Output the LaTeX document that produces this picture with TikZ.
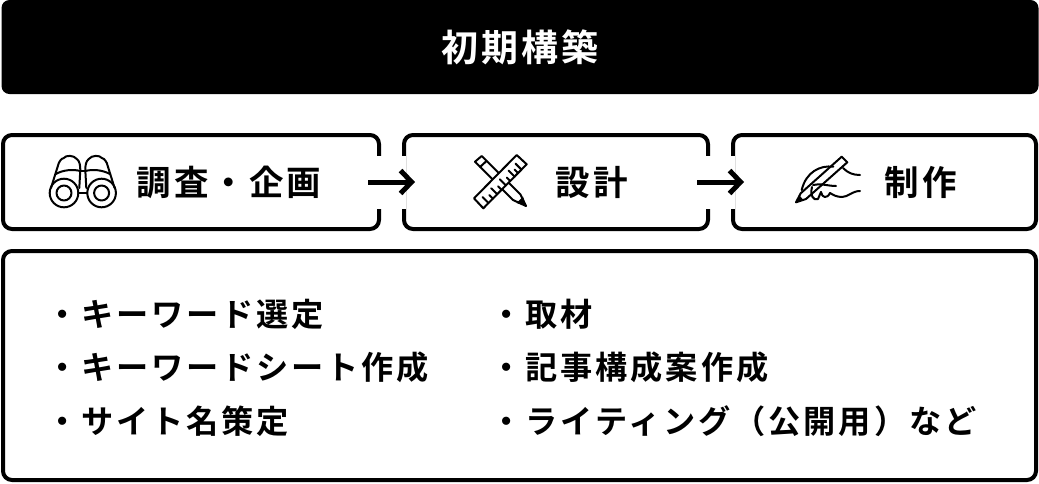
\documentclass[tikz,border=0pt]{standalone}
\usepackage{fontspec}
\newfontfamily\jpfont[LetterSpace=9]{Noto Sans CJK JP Bold}
\usetikzlibrary{%
  calc,
  positioning,
  arrows.meta,
}
\tikzset{
  titlebar/.style = {
    fill = black, text = white, rounded corners = 8pt,
    minimum width = 1037pt, minimum height = 94pt,
    font = \jpfont\fontsize{37}{37}\selectfont,
  },
  stepbox/.style = {
    draw = black, line width = 4pt, rounded corners = 9pt,
    minimum height = 94pt,
  },
  steptext/.style = {font = \jpfont\fontsize{34.5}{34.5}\selectfont},
  itemtext/.style = {font = \jpfont\fontsize{32.2}{32.2}\selectfont, anchor = west},
  iconline/.style = {line width = 2pt, line join = round, line cap = round},
  binohalf/.pic = {
    \draw [iconline] (-31.8,188) -- (-24,163) .. controls (-22,159) and (-20,158) .. (-19,158)
      .. controls (-17,155) and (-9,155) .. (-6,159)
      .. controls (-3,161) and (-2.5,166) .. (-2.5,170) -- (-3.5,188);
    \draw [iconline] (-27,174) .. controls (-20,170) and (-10,169) .. (-2.5,171);
    \draw [iconline] (-18.8,193) circle (14.3);
    \draw [iconline] (-18.8,193) circle (7.5);
  },
}
\begin{document}
\begin{tikzpicture}[x = 1pt, y = -1pt]
  \useasboundingbox (0,0) rectangle (1039,483);

  \node (title) [titlebar] at (520,47) {初期構築};

  \node (survey) [stepbox, minimum width = 376pt] at (191,182) {};
  \node (design) [stepbox, minimum width = 304pt] at (556,182) {};
  \node (make) [stepbox, minimum width = 303pt] at (884.5,182) {};
  \node (detail) [stepbox, minimum width = 1033pt, minimum height = 229pt] at (519.5,365.5) {};

  \node (surveytext) [steptext] at (229,182) {調査・企画};
  \node (designtext) [steptext] at (592,182) {設計};
  \node (maketext) [steptext] at (921,182) {制作};

  \node (itemA) [itemtext] at (42.5,314) {・キーワード選定};
  \node (itemB) [itemtext] at (42.5,367) {・キーワードシート作成};
  \node (itemC) [itemtext] at (42.5,421) {・サイト名策定};
  \node (itemD) [itemtext] at (487,314) {・取材};
  \node (itemE) [itemtext] at (487,367) {・記事構成案作成};
  \node (itemF) [itemtext] at (487,421) {・ライティング（公開用）など};

  \begin{scope}[white, line width = 53pt, shorten > = -4pt, shorten < = -4pt, yshift = 1pt]
    \draw (survey) -- (design);
    \draw (design) -- (make);
  \end{scope}
  \begin{scope}[line width = 5pt, yshift = 2pt, -{Straight Barb[length = 11pt, width = 23pt, line width = 5pt]}]
    \draw [shorten < = -13pt, shorten > = -13pt] (survey) -- (design);
    \draw [shorten < = -13pt, shorten > = -13pt] (design) -- (make);
  \end{scope}

  % binoculars
  \pic at (82.8,0) {binohalf};
  \pic at (82.8,0) [xscale = -1] {binohalf};
  \draw [iconline] (80.3,171) -- (85.3,171);
  \draw [iconline] (78.5,193) -- (87,193);

  % pencil and ruler
  \draw [iconline] (481.7,156) -- (475,161.7) -- (513,200) -- (526,206) -- (520.5,194.5) -- cycle;
  \draw [iconline] (486.5,161) -- (480,167);
  \fill (526,206) -- (516.5,203) -- (523,196.5) -- cycle;
  \coordinate (rulerA) at (516.7,155);
  \coordinate (rulerB) at (526.7,164.3);
  \coordinate (rulerC) at (483.3,208.3);
  \coordinate (rulerD) at (474,198.3);
  \draw [iconline, fill = white] (rulerA) -- (rulerB) -- (rulerC) -- (rulerD) -- cycle;
  \foreach \t in {0.12,0.32,0.52,0.72,0.88} {
    \draw [iconline] ($(rulerC)!\t!(rulerB)$) -- ++(-6,-6);
  }
  \foreach \t in {0.22,0.42,0.62,0.8} {
    \draw [iconline] ($(rulerC)!\t!(rulerB)$) -- ++(-3.5,-3.5);
  }

  % hand with pen
  \draw [iconline] (841.7,156.7) -- (800.7,193.3) -- (796,202.3) -- (806,199) -- (847.3,162.3) -- cycle;
  \fill (796,202.3) -- (799,195) -- (803.5,200) -- cycle;
  \draw [iconline] (833.3,166.7) .. controls (820,165) and (806,172) .. (801.7,190);
  \draw [iconline] (843,168) .. controls (848,173) and (853,175) .. (860,175);
  \draw [iconline] (860,191) .. controls (852,191) and (848,197) .. (842,197)
    .. controls (837,197) and (833,195) .. (830,193);
  \draw [iconline] (813,185) .. controls (820,183) and (828,186) .. (836,186);
  \draw [iconline] (812,187) .. controls (810,195) and (813,201) .. (818,199) -- (821,192);
  \draw [iconline] (821,192) .. controls (822,198) and (827,199) .. (830,193);
\end{tikzpicture}
\end{document}
